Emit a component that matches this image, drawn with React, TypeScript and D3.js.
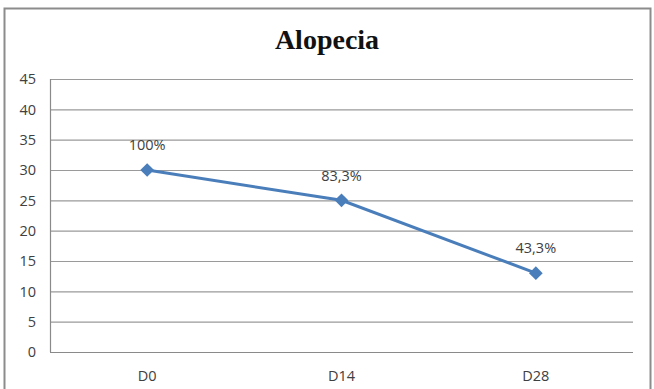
import React from "react";
import * as d3 from "d3";

const categories = ["D0", "D14", "D28"];
const values = [30, 25, 13];
const pointLabels = ["100%", "83,3%", "43,3%"];
const yTicks = [0, 5, 10, 15, 20, 25, 30, 35, 40, 45];

const W = 654;
const H = 389;
const plot = { left: 50, right: 633, top: 79, bottom: 352 };

export default function App() {
  const x = d3
    .scaleBand<string>()
    .domain(categories)
    .range([plot.left, plot.right]);
  const y = d3.scaleLinear().domain([0, 45]).range([plot.bottom, plot.top]);
  const cx = (c: string) => (x(c) ?? 0) + x.bandwidth() / 2;

  const line = d3
    .line<number>()
    .x((_, i) => cx(categories[i]))
    .y((v) => y(v));

  const diamond = d3.symbol().type(d3.symbolDiamond2).size(120)();

  const font = "'Open Sans', 'Liberation Sans', sans-serif";

  return (
    <svg
      width={W}
      height={H}
      style={{ position: "absolute", left: 0, top: 0, background: "#fff" }}
    >
      <rect x={4.5} y={8.5} width={646} height={400} fill="#fff" stroke="#8c8c8c" strokeWidth={2} />
      <text
        x={327}
        y={49}
        textAnchor="middle"
        fontFamily="'Liberation Serif', 'Times New Roman', serif"
        fontWeight="bold"
        fontSize={28}
        fill="#111"
      >
        Alopecia
      </text>

      {yTicks.map((t) => (
        <g key={t}>
          <line
            x1={plot.left}
            x2={plot.right}
            y1={y(t) + 0.5}
            y2={y(t) + 0.5}
            stroke={t === 0 ? "#8a8a8a" : "#9a9a9a"}
            strokeWidth={1.2}
          />
          <text
            x={36}
            y={y(t)}
            dy="0.36em"
            textAnchor="end"
            fontFamily={font}
            fontSize={14.5}
            fill="#404040"
          >
            {t}
          </text>
        </g>
      ))}
      <line
        x1={plot.left + 0.5}
        x2={plot.left + 0.5}
        y1={plot.top}
        y2={plot.bottom}
        stroke="#8a8a8a"
        strokeWidth={1.2}
      />

      {categories.map((c) => (
        <text
          key={c}
          x={cx(c)}
          y={376}
          dy="0.36em"
          textAnchor="middle"
          fontFamily={font}
          fontSize={14.5}
          fill="#404040"
        >
          {c}
        </text>
      ))}

      <path d={line(values) ?? ""} fill="none" stroke="#4a7ebb" strokeWidth={3} />
      {values.map((v, i) => (
        <g key={i}>
          <path
            d={diamond ?? ""}
            transform={`translate(${cx(categories[i])},${y(v)})`}
            fill="#4a7ebb"
          />
          <text
            x={cx(categories[i])}
            y={y(v) - 25}
            dy="0.36em"
            textAnchor="middle"
            fontFamily={font}
            fontSize={14.5}
            fill="#404040"
          >
            {pointLabels[i]}
          </text>
        </g>
      ))}
    </svg>
  );
}
